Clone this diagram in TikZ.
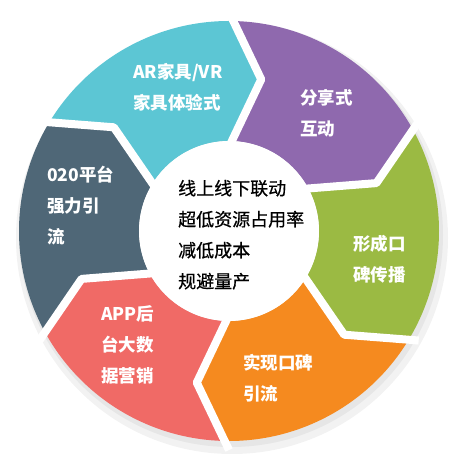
\documentclass[tikz,border=0pt]{standalone}
\usepackage{fontspec}
\newfontfamily\cjk{Noto Sans CJK SC}
\newfontfamily\cjkhub[FakeBold=0.6]{Noto Sans CJK SC}
\definecolor{segteal}{HTML}{5CC6D4}
\definecolor{segpurple}{HTML}{8F69AE}
\definecolor{seggreen}{HTML}{9BBA43}
\definecolor{segorange}{HTML}{F58A1F}
\definecolor{segred}{HTML}{F06A66}
\definecolor{segslate}{HTML}{4F6777}
\tikzset{
  segtext/.style={anchor=west, align=left, inner sep=0pt, text=white,
    font=\cjk\bfseries\fontsize{17.5}{31}\selectfont},
  hubtext/.style={anchor=west, align=left, inner sep=0pt, text=black,
    font=\cjkhub\fontsize{18}{31}\selectfont},
  gapline/.style={white, line width=8pt, line join=round}
}
\begin{document}
\begin{tikzpicture}[x=1pt,y=1pt]
   \useasboundingbox (-229,-231) rectangle (228,231);
   % soft shadow
   \fill[black, opacity=0.05] (3,-7) circle (216);
   \fill[black, opacity=0.05] (2,-4) circle (212);
   % ring segments
   \foreach \s/\col in {150/segteal, 90/segpurple, 30/seggreen,
                        -30/segorange, -90/segred, -150/segslate} {
      \fill[\col] (\s:210) arc[start angle=\s, end angle=\s-60, radius=210]
         -- (\s-72:155) -- (\s-60:90)
         arc[start angle=\s-60, end angle=\s, radius=90]
         -- (\s-12:155) -- cycle;
   }
   \foreach \s in {150, 90, 30, -30, -90, -150}
      \draw[gapline] (\s:219) -- (\s-12:155) -- (\s:84);
   \fill[white] (0,0) circle (90);
   % labels
   \node[hubtext] (hub) at (-51,-3.75) {线上线下联动\\超低资源占用率\\减低成本\\规避量产};
   \node[segtext] (ar) at (-96,143.5) {AR家具/VR\\家具体验式};
   \node[segtext] (share) at (71,117.5) {分享式\\互动};
   \node[segtext] (word) at (124,-28.5) {形成口\\碑传播};
   \node[segtext] (flow) at (14,-147) {实现口碑\\引流};
   \node[segtext] (app) at (-128,-113.5) {APP后\\台大数\\据营销};
   \node[segtext] (oto) at (-182,25) {020平台\\强力引\\流};
\end{tikzpicture}
\end{document}
